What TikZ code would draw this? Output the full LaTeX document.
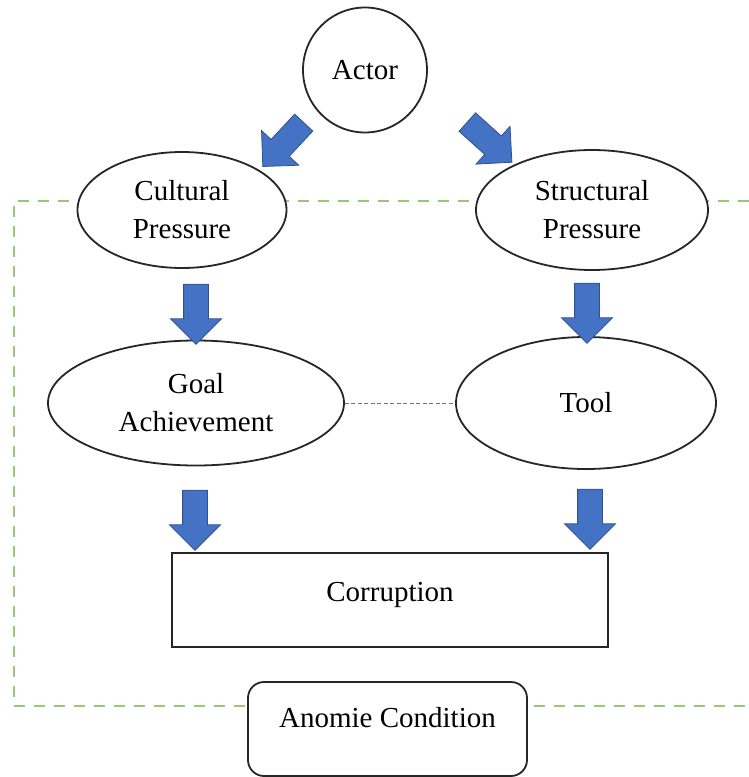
\documentclass[tikz,border=0pt]{standalone}
\usepackage{fontspec}
\setmainfont{Liberation Serif}
\usepackage{tikz}
\usetikzlibrary{shapes.geometric,shapes.arrows}

\definecolor{arrowblue}{RGB}{68,114,196}
\definecolor{arrowedge}{RGB}{47,82,143}
\definecolor{framegreen}{RGB}{150,200,120}

\begin{document}
\begin{tikzpicture}[x=1pt,y=-1pt,font=\fontsize{29}{38}\selectfont]

  \tikzstyle{oval}=[ellipse,draw=black!85,line width=1.8pt,fill=white,
                    align=center,inner sep=0pt]
  \tikzstyle{box}=[rectangle,draw=black!85,line width=1.8pt,fill=white]
  \tikzstyle{blockarrow}=[single arrow,draw=arrowedge,fill=arrowblue,
                          line width=0.8pt,inner sep=12pt,minimum height=60pt,
                          minimum width=50pt,single arrow head extend=13pt,
                          single arrow tip angle=90]
  \tikzstyle{frame}=[draw=framegreen,line width=1.6pt,dash pattern=on 11pt off 9pt]
  \tikzstyle{link}=[draw=black!55,line width=0.8pt,dash pattern=on 4pt off 2.5pt]

  \useasboundingbox (0,0) rectangle (749,777);

  % anomie frame behind everything
  \draw[frame] (749,201) -- (14,201) -- (14,706) -- (749,706);

  \node[oval,minimum width=124pt,minimum height=125pt] (ACT) at (365,70)  {Actor};
  \node[oval,minimum width=209pt,minimum height=116pt] (CUL) at (182,210) {Cultural \\ Pressure};
  \node[oval,minimum width=232pt,minimum height=120pt] (STR) at (592,210) {Structural \\ Pressure};

  \node[oval,minimum width=296pt,minimum height=125pt] (GOAL) at (196,403) {Goal \\ Achievement};
  \node[oval,minimum width=260pt,minimum height=132pt] (TOOL) at (586,403) {Tool};

  \node[box,minimum width=436pt,minimum height=94pt,text depth=16pt] (COR) at (390,600) {Corruption};
  \node[box,rounded corners=16pt,minimum width=279pt,minimum height=94pt,
        text depth=24pt] (ANO) at (387.5,729) {Anomie Condition};

  \draw[link] (GOAL.east) -- (TOOL.west);

  % block arrows
  \node[blockarrow,rotate=-133] (A1) at (287.5,140) {};
  \node[blockarrow,rotate=-42]  (A2) at (485,138)   {};
  \node[blockarrow,rotate=-90]  (A3) at (196,308)   {};
  \node[blockarrow,rotate=-90]  (A4) at (587,307)   {};
  \node[blockarrow,rotate=-90]  (A5) at (195,514)   {};
  \node[blockarrow,rotate=-90]  (A6) at (590,513)   {};
\end{tikzpicture}
\end{document}
